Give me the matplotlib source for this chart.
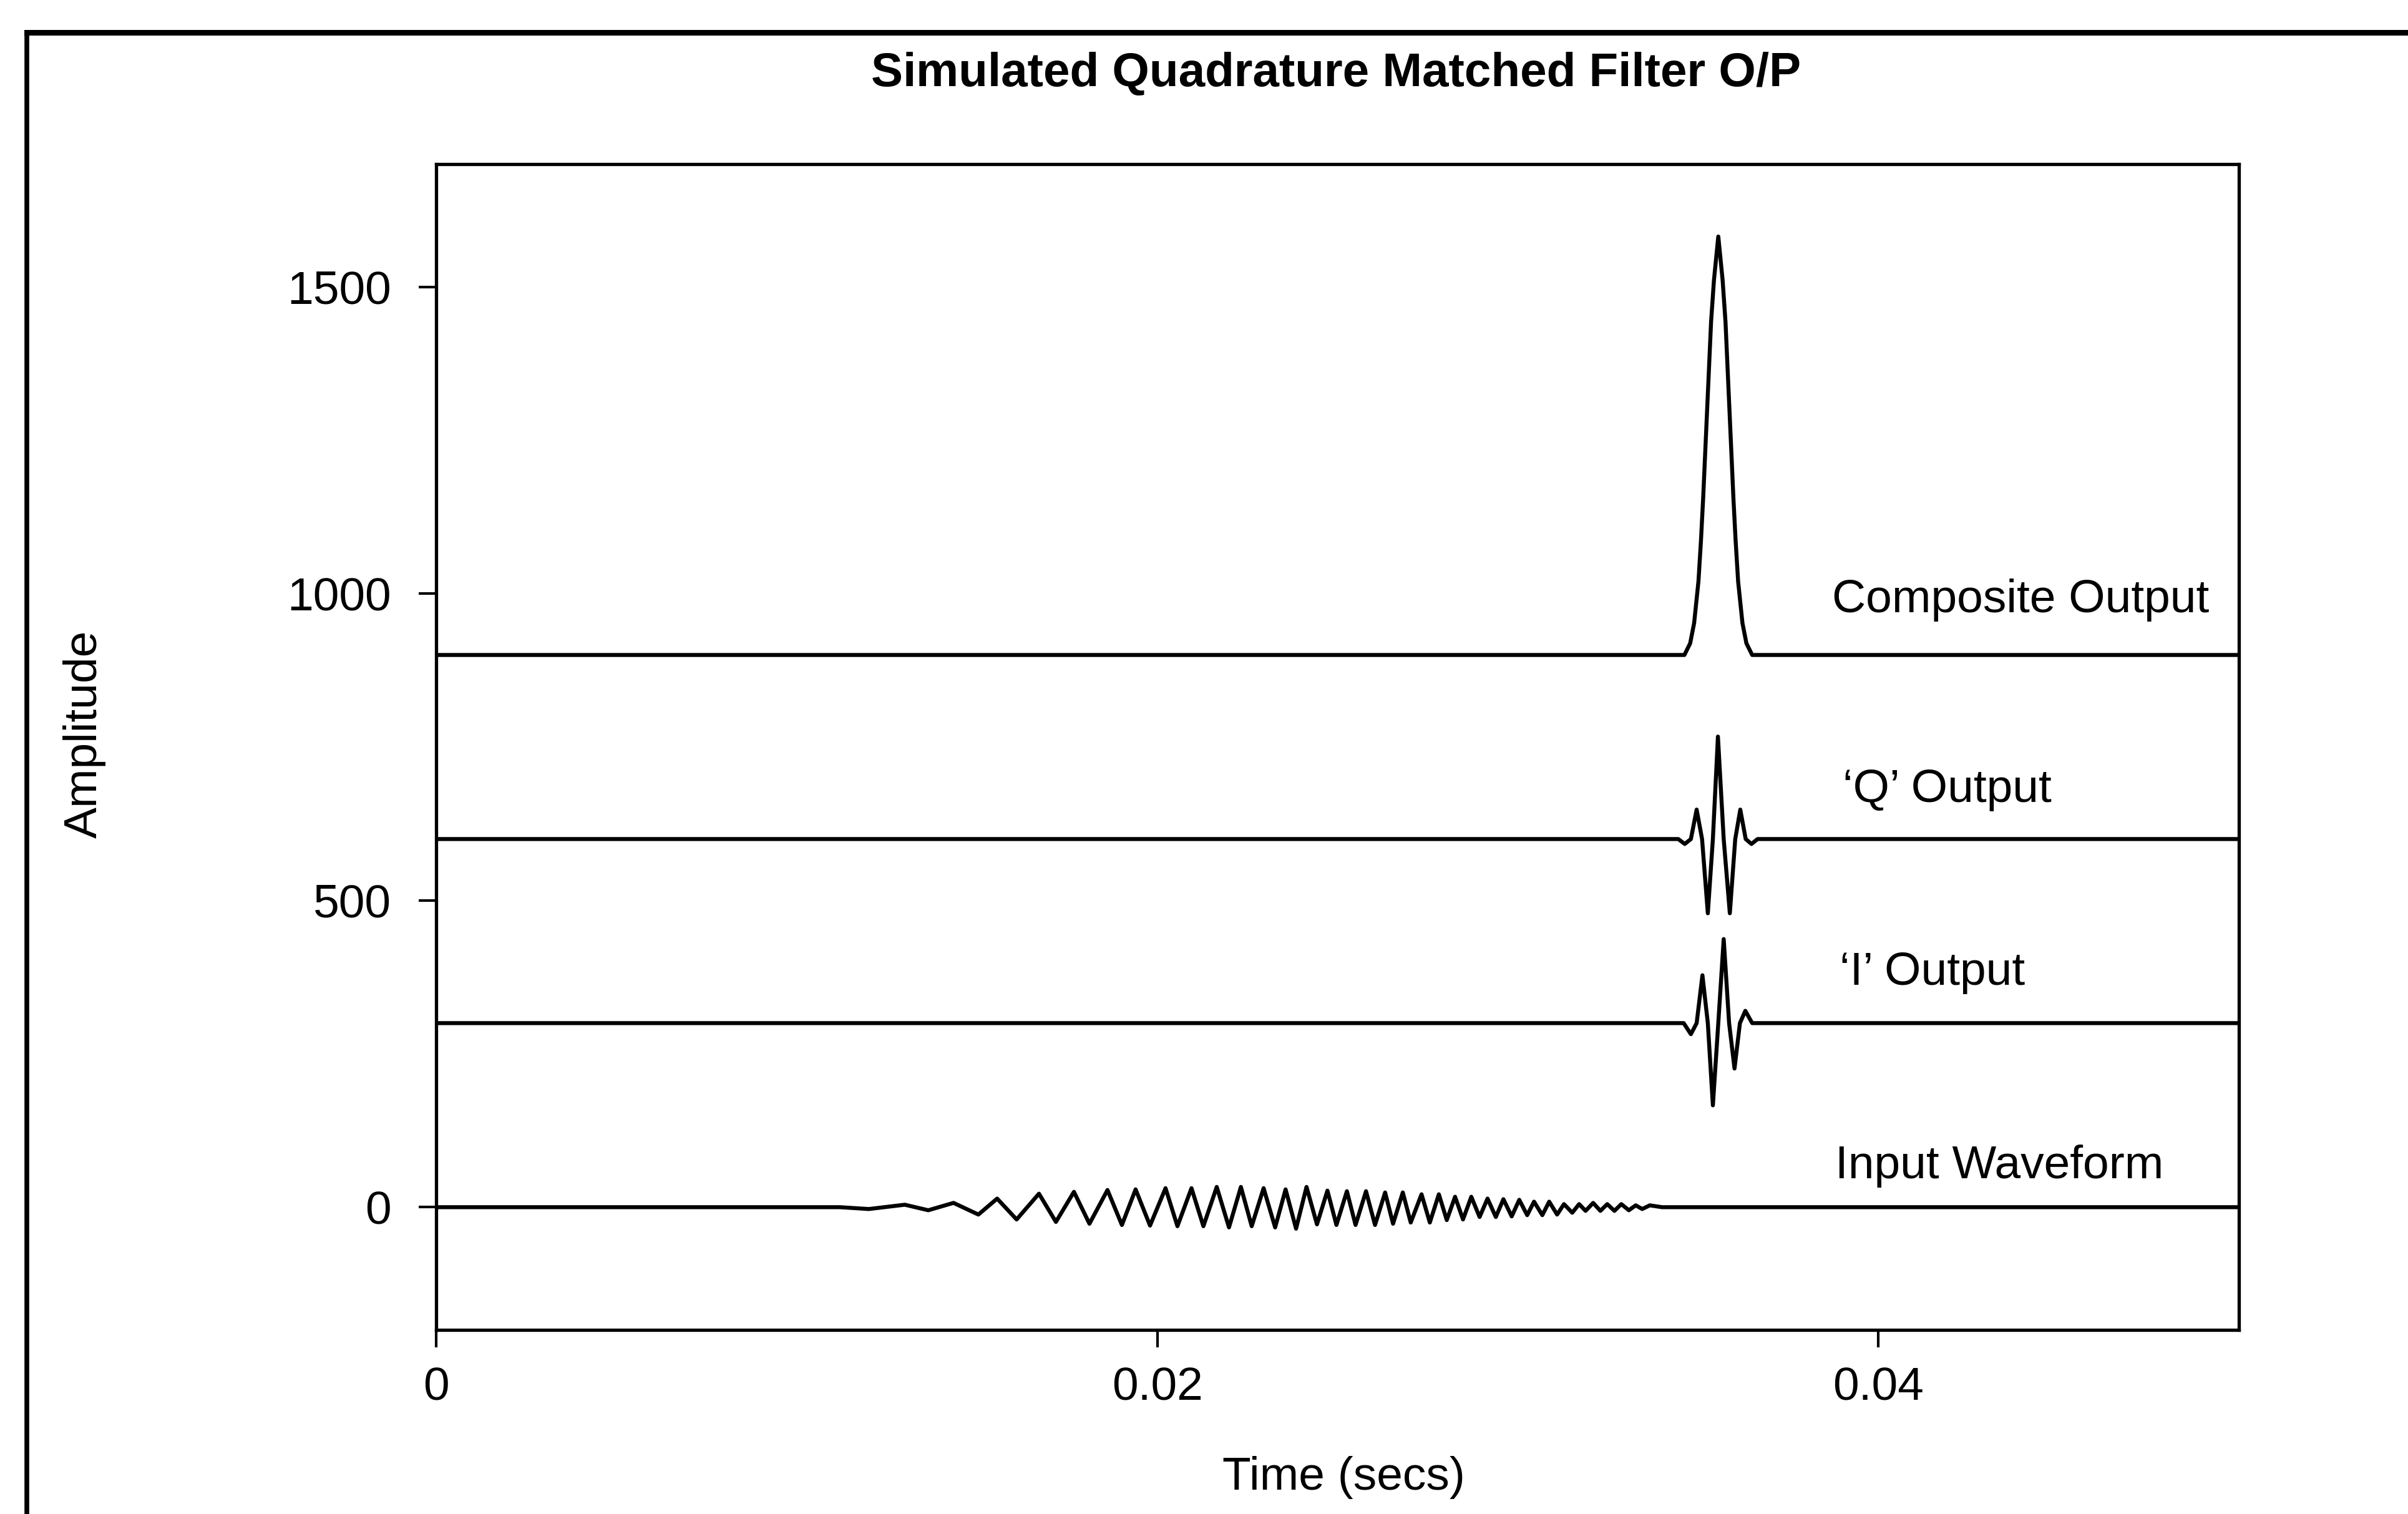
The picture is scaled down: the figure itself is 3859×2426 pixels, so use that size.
import matplotlib

matplotlib.use("Agg")

import matplotlib.pyplot as plt
from matplotlib.lines import Line2D

plt.rcParams["font.family"] = ["Liberation Sans", "DejaVu Sans"]

# Input chirp: turning points (time in s, amplitude)
input_t = [0.0, 0.0112, 0.0120, 0.0130, 0.01365, 0.01435, 0.01504, 0.01556,
           0.01610, 0.01672, 0.01719, 0.01769, 0.01812, 0.01862, 0.01902,
           0.01940, 0.01980, 0.02023, 0.02056, 0.02095, 0.02128, 0.02165,
           0.02199, 0.02232, 0.02262, 0.02295, 0.02327, 0.02356, 0.02385,
           0.02414, 0.02443, 0.02472, 0.02497, 0.02526, 0.02550, 0.02579,
           0.02604, 0.02632, 0.02654, 0.02681, 0.02703, 0.02733, 0.02756,
           0.02781, 0.02803, 0.02826, 0.02848, 0.02871, 0.02894, 0.02916,
           0.02939, 0.02960, 0.02983, 0.03004, 0.03026, 0.03045, 0.03068,
           0.03087, 0.03109, 0.03128, 0.03151, 0.03170, 0.03188, 0.03209,
           0.03229, 0.03248, 0.03268, 0.03287, 0.03308, 0.03327, 0.03345,
           0.03366, 0.0340, 0.05]
input_v = [0, 0, -3, 4, -5, 7, -12, 14,
           -20, 22, -24, 25, -27, 28, -29,
           29, -30, 31, -31, 31, -31, 33,
           -33, 33, -31, 31, -33, 29, -35,
           33, -28, 27, -29, 26, -29, 26,
           -29, 24, -27, 24, -25, 21, -25,
           21, -21, 17, -20, 17, -16, 14,
           -16, 13, -15, 12, -13, 9, -13,
           9, -12, 5, -9, 5, -6, 7,
           -6, 5, -6, 5, -5, 3, -3,
           3, 0, 0]

# In-phase matched filter output
i_t = [0.0, 0.03460, 0.03480, 0.03496, 0.03512, 0.03527, 0.03541, 0.03556,
       0.03571, 0.03586, 0.03601, 0.03616, 0.03631, 0.03650, 0.05]
i_v = [0, 0, -18, 0, 78, 0, -134, 0,
       137, 0, -74, 0, 20, 0, 0]

# Quadrature matched filter output
q_t = [0.0, 0.03445, 0.03463, 0.03480, 0.03496, 0.03511, 0.03527, 0.03541,
       0.03555, 0.03571, 0.03588, 0.03603, 0.03617, 0.03632, 0.03648,
       0.03665, 0.05]
q_v = [0, 0, -8, 0, 48, 0, -121, 0,
       167, 0, -121, 0, 48, 0, -8,
       0, 0]

# Envelope of the combined I/Q output
comp_t = [0.0, 0.03462, 0.03478, 0.03489, 0.03501, 0.03508, 0.03514,
          0.03536, 0.03544, 0.03556, 0.03568, 0.03576, 0.03598, 0.03604,
          0.03611, 0.03623, 0.03634, 0.03650, 0.05]
comp_v = [0, 0, 19, 52, 120, 187, 255,
          543, 611, 682, 611, 543, 255, 187,
          120, 52, 19, 0, 0]

trace_offsets = [0, 300, 600, 900]
trace_names = ["Input Waveform", "\u2018I\u2019 Output", "\u2018Q\u2019 Output",
               "Composite Output"]

x_ticks = [0, 0.02, 0.04]
x_tick_labels = ["0", "0.02", "0.04"]
y_ticks = [0, 500, 1000, 1500]

fig = plt.figure(figsize=(38.59, 24.26), dpi=100)
ax = fig.add_axes([0.1811, 0.1216, 0.7487, 0.7700])

traces = [(input_t, input_v), (i_t, i_v), (q_t, q_v), (comp_t, comp_v)]
for (t, v), off in zip(traces, trace_offsets):
    ax.plot(t, [val + off for val in v], color="black", lw=4.6,
            solid_joinstyle="round", solid_capstyle="round")

# trace captions, to the right of the pulses
label_x = [0.0388, 0.03893, 0.03901, 0.03871]
label_y = [67, 382, 680, 990]
for name, lx, ly in zip(trace_names, label_x, label_y):
    ax.text(lx, ly, name, fontsize=54, va="center", ha="left")

ax.set_xlim(0, 0.05)
ax.set_ylim(-200, 1700)
ax.set_xticks(x_ticks)
ax.set_xticklabels(x_tick_labels)
ax.set_yticks(y_ticks)
ax.tick_params(direction="out", length=20, width=3.0, labelsize=54)
ax.tick_params(axis="x", pad=22)
ax.tick_params(axis="y", pad=32)
for s in ax.spines.values():
    s.set_linewidth(3.8)

fig.text(0.5548, 0.951, "Simulated Quadrature Matched Filter O/P",
         fontsize=55, fontweight="bold", ha="center", va="center")
fig.text(0.558, 0.024, "Time (secs)", fontsize=54, ha="center", va="center")
fig.text(0.035, 0.515, "Amplitude", fontsize=54, rotation=90,
         ha="center", va="center")

# page frame around the figure
fig.add_artist(Line2D([0.0111, 1.0], [0.9786, 0.9786],
                      transform=fig.transFigure, color="black", lw=6.5))
fig.add_artist(Line2D([0.0111, 0.0111], [0.9786, 0.0],
                      transform=fig.transFigure, color="black", lw=5.5))

fig.savefig("out.png", dpi=100)
